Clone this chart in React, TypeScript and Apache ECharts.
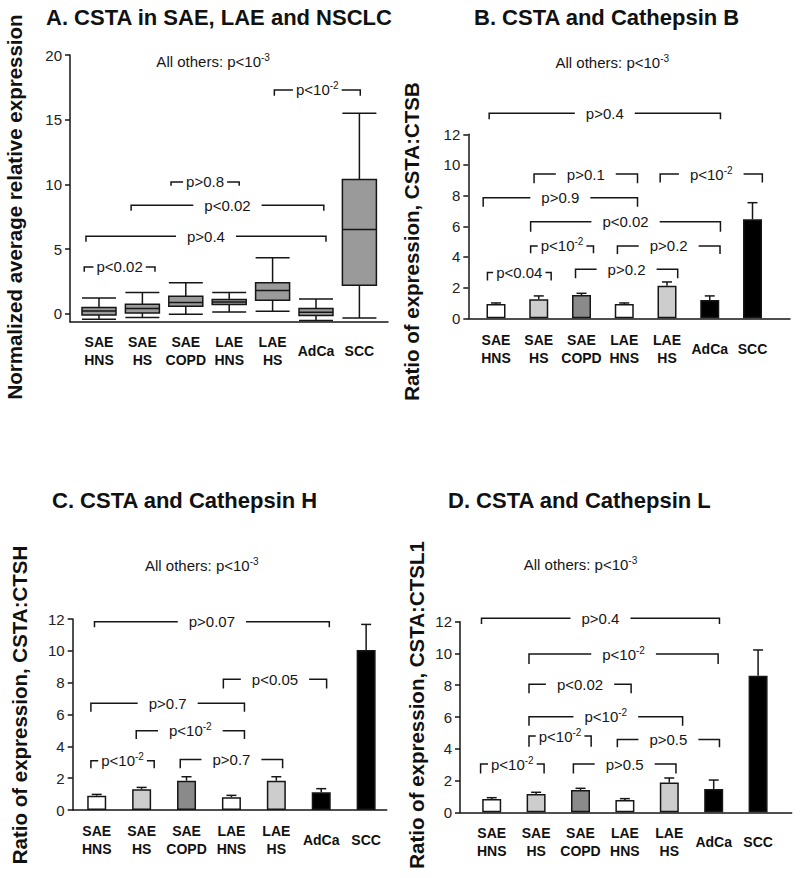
import React, { useEffect, useRef } from 'react';
import * as echarts from 'echarts';

const FONT = '"Liberation Sans", Arial, Helvetica, sans-serif';
const INK = '#161616';

// ---------- data ----------
const categories = ['SAE\nHNS', 'SAE\nHS', 'SAE\nCOPD', 'LAE\nHNS', 'LAE\nHS', 'AdCa', 'SCC'];

// Panel A box plot: [min, Q1, median, Q3, max]
const boxA = [
  [-0.41, -0.08, 0.23, 0.49, 1.24],
  [-0.28, 0.08, 0.42, 0.75, 1.65],
  [-0.02, 0.6, 0.88, 1.37, 2.4],
  [0.15, 0.73, 0.93, 1.11, 1.65],
  [0.21, 1.06, 1.81, 2.4, 4.33],
  [-0.51, -0.12, 0.13, 0.42, 1.16],
  [-0.31, 2.22, 6.53, 10.39, 15.5],
];

// Panels B-D: mean ratio and upper error bar end
const barB = [0.93, 1.24, 1.52, 0.93, 2.13, 1.2, 6.46];
const errB = [1.0, 1.46, 1.63, 1.0, 2.37, 1.46, 7.54];
const barC = [0.9, 1.3, 1.84, 0.8, 1.84, 1.11, 10.05];
const errC = [0.98, 1.42, 2.09, 0.92, 2.09, 1.34, 11.66];
const barD = [0.84, 1.15, 1.41, 0.78, 1.87, 1.47, 8.6];
const errD = [0.92, 1.26, 1.51, 0.86, 2.16, 2.03, 10.22];

// Significance brackets: [from (category units), to, line level, end-tick level, label]
const bracketsA: [number, number, number, number, string][] = [
  [-0.34, 1.29, 3.63, 3.25, 'p<0.02'],
  [-0.3, 5.23, 6.0, 5.57, 'p>0.4'],
  [0.74, 5.18, 8.4, 7.97, 'p<0.02'],
  [1.66, 3.23, 10.2, 9.9, 'p>0.8'],
  [4.04, 6.02, 17.3, 16.86, 'p<10^-2'],
];
const bracketsB: [number, number, number, number, string][] = [
  [-0.16, 5.25, 13.37, 12.98, 'p>0.4'],
  [0.89, 3.31, 9.41, 8.8, 'p>0.1'],
  [3.84, 6.23, 9.41, 8.85, 'p<10^-2'],
  [-0.3, 3.31, 7.87, 7.28, 'p>0.9'],
  [0.81, 5.25, 6.3, 5.65, 'p<0.02'],
  [0.81, 2.28, 4.72, 4.24, 'p<10^-2'],
  [2.84, 5.24, 4.72, 4.2, 'p>0.2'],
  [-0.2, 1.29, 2.98, 2.46, 'p<0.04'],
  [1.86, 4.25, 3.2, 2.61, 'p>0.2'],
];
const bracketsC: [number, number, number, number, string][] = [
  [-0.05, 5.18, 11.83, 11.48, 'p>0.07'],
  [2.82, 5.12, 8.21, 7.64, 'p<0.05'],
  [-0.13, 3.29, 6.7, 6.18, 'p>0.7'],
  [0.88, 3.29, 4.98, 4.46, 'p<10^-2'],
  [-0.13, 1.28, 3.1, 2.62, 'p<10^-2'],
  [1.86, 4.14, 3.18, 2.62, 'p>0.7'],
];
const bracketsD: [number, number, number, number, string][] = [
  [-0.23, 5.13, 12.21, 11.85, 'p>0.4'],
  [0.84, 5.1, 9.96, 9.33, 'p<10^-2'],
  [0.84, 3.14, 8.06, 7.49, 'p<0.02'],
  [0.84, 4.3, 6.02, 5.45, 'p<10^-2'],
  [0.84, 2.24, 4.8, 4.13, 'p<10^-2'],
  [2.83, 5.13, 4.59, 4.09, 'p>0.5'],
  [-0.25, 1.18, 3.04, 2.45, 'p<10^-2'],
  [1.84, 4.15, 3.04, 2.45, 'p>0.5'],
];

// "All others" notes: [x (category units), y, label]
const noteA: [number, number, string] = [2.63, 19.5, 'All others: p<10^-3'];
const noteB: [number, number, string] = [2.72, 16.7, 'All others: p<10^-3'];
const noteC: [number, number, string] = [2.34, 15.39, 'All others: p<10^-3'];
const noteD: [number, number, string] = [2.0, 15.57, 'All others: p<10^-3'];

const titles = [
  'A. CSTA in SAE, LAE and NSCLC',
  'B. CSTA and Cathepsin B',
  'C. CSTA and Cathepsin H',
  'D. CSTA and Cathepsin L',
];
const yTitles = [
  'Normalized average relative expression',
  'Ratio of expression, CSTA:CTSB',
  'Ratio of expression, CSTA:CTSH',
  'Ratio of expression, CSTA:CTSL1',
];
const yTicksA = [0, 5, 10, 15, 20];

// ---------- styles ----------
const BAR_FILL = ['#ffffff', '#cdcdcd', '#8a8a8a', '#ffffff', '#cdcdcd', '#000000', '#000000'];

const RICH = {
  t: { fontSize: 15, fontFamily: FONT, lineHeight: 18, fill: INK, color: INK },
  s: { fontSize: 10, fontFamily: FONT, lineHeight: 9, verticalAlign: 'top', fill: INK, color: INK },
};

function richLabel(s: string): string {
  const idx = s.indexOf('^');
  if (idx < 0) return `{t|${s}}`;
  return `{t|${s.slice(0, idx)}}{s|${s.slice(idx + 1)}}`;
}

function bracketSeries(gi: number, brackets: [number, number, number, number, string][]) {
  return {
    type: 'custom',
    xAxisIndex: gi,
    yAxisIndex: gi,
    clip: false,
    silent: true,
    z: 10,
    data: brackets.map((b) => [b[0], b[1], b[2], b[3]]),
    encode: { x: [0, 1], y: [2, 3] },
    renderItem: (params: any, api: any) => {
      const b = brackets[params.dataIndex];
      const p1 = api.coord([b[0], b[2]]);
      const p2 = api.coord([b[1], b[2]]);
      const e = api.coord([b[0], b[3]]);
      const w = p2[0] - p1[0];
      const pad = w < 90 ? 3 : 11;
      return {
        type: 'group',
        children: [
          {
            type: 'polyline',
            shape: { points: [[p1[0], e[1]], [p1[0], p1[1]], [p2[0], p2[1]], [p2[0], e[1]]] },
            style: { stroke: INK, lineWidth: 1.5, fill: null },
          },
          {
            type: 'text',
            x: (p1[0] + p2[0]) / 2,
            y: p1[1],
            style: {
              text: richLabel(b[4]),
              rich: RICH,
              align: 'center',
              verticalAlign: 'middle',
              backgroundColor: '#ffffff',
              padding: [0, pad],
              fill: INK,
              fontSize: 15,
              fontFamily: FONT,
            },
          },
        ],
      };
    },
  };
}

function noteSeries(gi: number, note: [number, number, string]) {
  return {
    type: 'custom',
    xAxisIndex: gi,
    yAxisIndex: gi,
    clip: false,
    silent: true,
    z: 10,
    data: [[note[0], note[1]]],
    encode: { x: 0, y: 1 },
    renderItem: (params: any, api: any) => {
      const p = api.coord([api.value(0), api.value(1)]);
      return {
        type: 'text',
        x: p[0],
        y: p[1],
        style: {
          text: richLabel(note[2]),
          rich: RICH,
          align: 'center',
          verticalAlign: 'middle',
          fill: INK,
          fontSize: 15,
          fontFamily: FONT,
        },
      };
    },
  };
}

function barSeries(gi: number, bars: number[]) {
  return {
    type: 'bar',
    xAxisIndex: gi,
    yAxisIndex: gi,
    barWidth: 19,
    z: 2,
    data: bars.map((v, i) => ({ value: [i, v], itemStyle: { color: BAR_FILL[i] } })),
    itemStyle: { borderColor: INK, borderWidth: 1.5 },
  };
}

function errSeries(gi: number, bars: number[], errs: number[]) {
  return {
    type: 'custom',
    xAxisIndex: gi,
    yAxisIndex: gi,
    silent: true,
    z: 3,
    data: errs.map((e, i) => [i, bars[i], e]),
    encode: { x: 0, y: [1, 2] },
    renderItem: (params: any, api: any) => {
      const base = api.coord([api.value(0), api.value(1)]);
      const top = api.coord([api.value(0), api.value(2)]);
      return {
        type: 'group',
        children: [
          { type: 'line', shape: { x1: base[0], y1: base[1], x2: top[0], y2: top[1] }, style: { stroke: INK, lineWidth: 1.5 } },
          { type: 'line', shape: { x1: top[0] - 5, y1: top[1], x2: top[0] + 5, y2: top[1] }, style: { stroke: INK, lineWidth: 1.5 } },
        ],
      };
    },
  };
}

function xAxisDef(gi: number, min: number, max: number, margin: number) {
  return {
    type: 'value',
    gridIndex: gi,
    min,
    max,
    splitLine: { show: false },
    axisTick: { show: false },
    axisLine: { show: true, onZero: false, lineStyle: { color: INK, width: 1.5 } },
    axisLabel: {
      customValues: [0, 1, 2, 3, 4, 5, 6],
      formatter: (v: number) => {
        const c = categories[Math.round(v)] ?? '';
        return c.includes('\n') ? c : `{one|${c}}`;
      },
      fontSize: 14,
      fontWeight: 'bold',
      fontFamily: FONT,
      color: '#111',
      lineHeight: 18,
      margin,
      rich: { one: { fontSize: 14, fontWeight: 'bold', fontFamily: FONT, lineHeight: 36, color: '#111' } },
    },
  };
}

function yAxisDef(gi: number, min: number, max: number, interval?: number, custom?: number[]) {
  const label: any = { fontSize: 15, fontFamily: FONT, color: '#222', margin: 8 };
  const tick: any = { show: true, length: 5, lineStyle: { color: INK, width: 1.5 } };
  if (custom) {
    label.customValues = custom;
    tick.customValues = custom;
  }
  const ax: any = {
    type: 'value',
    gridIndex: gi,
    min,
    max,
    splitLine: { show: false },
    axisLine: { show: true, onZero: false, lineStyle: { color: INK, width: 1.5 } },
    axisTick: tick,
    axisLabel: label,
  };
  if (interval) ax.interval = interval;
  return ax;
}

export default function App() {
  const ref = useRef<HTMLDivElement>(null);
  useEffect(() => {
    if (!ref.current) return;
    const chart = echarts.init(ref.current, null, { renderer: 'svg' });
    const titleStyle = { fontSize: 22, fontWeight: 'bold', fontFamily: FONT, color: '#111' };
    const yTitlePos = [
      [14.5, 207],
      [411.5, 241.5],
      [19, 705],
      [416, 705],
    ];
    chart.setOption({
      animation: false,
      backgroundColor: '#ffffff',
      title: [
        { text: titles[0], left: 46, top: 6, padding: 0, textStyle: titleStyle },
        { text: titles[1], left: 474, top: 6, padding: 0, textStyle: titleStyle },
        { text: titles[2], left: 52, top: 489, padding: 0, textStyle: titleStyle },
        { text: titles[3], left: 448, top: 489, padding: 0, textStyle: titleStyle },
      ],
      graphic: yTitles.map((t, i) => ({
        type: 'text',
        x: yTitlePos[i][0],
        y: yTitlePos[i][1],
        rotation: Math.PI / 2,
        style: {
          text: t,
          font: `bold 20.5px ${FONT}`,
          align: 'center',
          verticalAlign: 'middle',
          fill: '#111',
        },
      })),
      grid: [
        { left: 70, right: 412, top: 55, bottom: 556.3 },
        { left: 468.3, right: 10, top: 134.3, bottom: 559.7 },
        { left: 72.7, right: 413.3, top: 619, bottom: 68 },
        { left: 460, right: 8.3, top: 621.7, bottom: 65.7 },
      ],
      xAxis: [
        xAxisDef(0, -0.668, 6.659, 11),
        xAxisDef(1, -0.648, 6.877, 13),
        xAxisDef(2, -0.535, 6.458, 12),
        xAxisDef(3, -0.714, 6.757, 12),
      ],
      yAxis: [
        yAxisDef(0, -0.6, 20, undefined, yTicksA),
        yAxisDef(1, 0, 12, 2),
        yAxisDef(2, 0, 12, 2),
        yAxisDef(3, 0, 12, 2),
      ],
      series: [
        {
          type: 'boxplot',
          xAxisIndex: 0,
          yAxisIndex: 0,
          boxWidth: [34, 34],
          data: boxA.map((b, i) => [i, ...b]),
          itemStyle: { color: '#9a9a9a', borderColor: INK, borderWidth: 1.5 },
        },
        barSeries(1, barB),
        errSeries(1, barB, errB),
        barSeries(2, barC),
        errSeries(2, barC, errC),
        barSeries(3, barD),
        errSeries(3, barD, errD),
        bracketSeries(0, bracketsA),
        bracketSeries(1, bracketsB),
        bracketSeries(2, bracketsC),
        bracketSeries(3, bracketsD),
        noteSeries(0, noteA),
        noteSeries(1, noteB),
        noteSeries(2, noteC),
        noteSeries(3, noteD),
      ],
    });
    return () => chart.dispose();
  }, []);
  return (
    <div
      ref={ref}
      style={{ position: 'absolute', left: 0, top: 0, width: 800, height: 878, background: '#fff' }}
    />
  );
}
